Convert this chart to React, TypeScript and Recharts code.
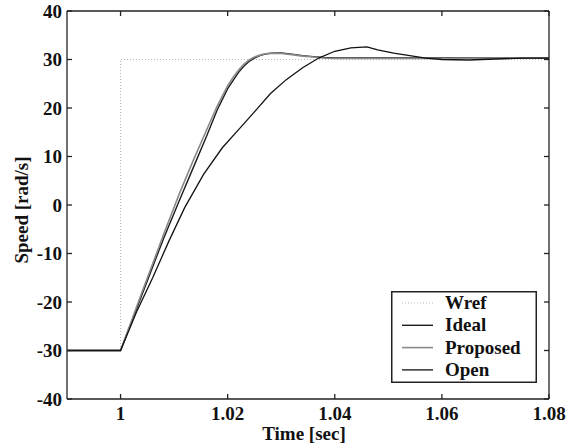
import React from 'react';
import { LineChart, Line, XAxis, YAxis, Legend } from 'recharts';

const FONT = '"Liberation Serif", "Times New Roman", Times, serif';

const xTicks = [1, 1.02, 1.04, 1.06, 1.08];
const yTicks = [-40, -30, -20, -10, 0, 10, 20, 30, 40];

const seriesNames = ['Wref', 'Ideal', 'Proposed', 'Open'];

const wrefT = [0.99, 1.0, 1.0, 1.08];
const wrefV = [-30, -30, 30, 30];

const idealT = [0.99, 1.0, 1.004, 1.008, 1.011, 1.0135, 1.016, 1.018, 1.02, 1.022, 1.023, 1.024, 1.025, 1.026, 1.027, 1.028, 1.03, 1.032, 1.034, 1.036, 1.038, 1.04, 1.05, 1.06, 1.07, 1.08];
const idealV = [-30, -30, -18.5, -7, 1, 7.5, 14, 19.5, 24, 27.3, 28.6, 29.6, 30.3, 30.8, 31.1, 31.3, 31.35, 31.1, 30.8, 30.6, 30.4, 30.3, 30.3, 30.3, 30.3, 30.3];

const proposedT = [0.99, 1.0, 1.004, 1.008, 1.011, 1.0135, 1.016, 1.018, 1.02, 1.021, 1.022, 1.023, 1.024, 1.025, 1.026, 1.027, 1.028, 1.03, 1.032, 1.034, 1.036, 1.038, 1.04, 1.05, 1.06, 1.07, 1.08];
const proposedV = [-30, -30, -18, -6.2, 2.4, 9, 15.3, 20.3, 24.6, 26.3, 27.8, 29.0, 29.9, 30.5, 30.9, 31.2, 31.3, 31.25, 31.0, 30.7, 30.5, 30.3, 30.2, 30.2, 30.2, 30.3, 30.3];

const openT = [0.99, 1.0, 1.003, 1.006, 1.009, 1.012, 1.0155, 1.019, 1.022, 1.025, 1.028, 1.031, 1.034, 1.037, 1.04, 1.043, 1.046, 1.048, 1.051, 1.054, 1.057, 1.06, 1.065, 1.07, 1.075, 1.08];
const openV = [-30, -30, -22, -15, -7.5, -0.5, 6.3, 11.8, 15.5, 19.2, 23.0, 25.9, 28.3, 30.3, 31.7, 32.4, 32.6, 32.0, 31.3, 30.8, 30.3, 30.0, 29.9, 30.1, 30.3, 30.3];

const toData = (t: number[], v: number[]) => t.map((x, i) => ({ t: x, v: v[i] }));

const styles = [
  { color: '#b8b8b8', width: 1.2, dash: '1 2' },
  { color: '#1a1a1a', width: 1.4, dash: undefined },
  { color: '#8a8a8a', width: 1.6, dash: undefined },
  { color: '#111111', width: 1.3, dash: undefined },
];

const seriesData = [
  toData(wrefT, wrefV),
  toData(idealT, idealV),
  toData(proposedT, proposedV),
  toData(openT, openV),
];

const tickStyle = { fontSize: 19, fontWeight: 'bold' as const, fontFamily: FONT, fill: '#111' };

const LegendBox = () => (
  <svg width={146} height={92} style={{ display: 'block' }}>
    <rect x={0.75} y={0.75} width={144.5} height={90.5} fill="#fff" stroke="#222" strokeWidth={1.5} />
    {seriesNames.map((name, i) => {
      const cy = 12 + i * 22.3;
      return (
        <g key={name}>
          <line x1={11} x2={42} y1={cy} y2={cy} stroke={styles[i].color} strokeWidth={styles[i].width} strokeDasharray={styles[i].dash} />
          <text x={54} y={cy + 6} style={{ fontSize: 19, fontWeight: 'bold', fontFamily: FONT, fill: '#111' }}>{name}</text>
        </g>
      );
    })}
  </svg>
);

export default function App() {
  return (
    <div style={{ position: 'absolute', left: 0, top: 0, background: '#fff' }}>
      <LineChart width={577} height={448} margin={{ top: 0, right: 0, bottom: 0, left: 0 }}>
        <XAxis
          xAxisId="bottom"
          dataKey="t"
          type="number"
          domain={[0.99, 1.08]}
          ticks={xTicks}
          allowDataOverflow
          height={49}
          tickSize={-5}
          tickMargin={13}
          stroke="#222"
          strokeWidth={1.3}
          tick={tickStyle}
          tickFormatter={(v: number) => String(v)}
          label={{
            content: () => (
              <text x={304} y={440} textAnchor="middle" style={{ fontSize: 19, fontWeight: 'bold', fontFamily: FONT, fill: '#111' }}>
                Time [sec]
              </text>
            ),
          }}
        />
        <XAxis
          xAxisId="top"
          orientation="top"
          dataKey="t"
          type="number"
          domain={[0.99, 1.08]}
          ticks={xTicks}
          allowDataOverflow
          height={11}
          tickSize={-5}
          stroke="#222"
          strokeWidth={1.3}
          tickFormatter={() => ''}
        />
        <YAxis
          yAxisId="left"
          type="number"
          domain={[-40, 40]}
          ticks={yTicks}
          allowDataOverflow
          width={67}
          tickSize={-5}
          tickMargin={10}
          stroke="#222"
          strokeWidth={1.3}
          tick={tickStyle}
          label={{
            content: () => (
              <text x={28} y={210} textAnchor="middle" transform="rotate(-90 28 210)" style={{ fontSize: 19, fontWeight: 'bold', fontFamily: FONT, fill: '#111' }}>
                Speed [rad/s]
              </text>
            ),
          }}
        />
        <YAxis
          yAxisId="right"
          orientation="right"
          type="number"
          domain={[-40, 40]}
          ticks={yTicks}
          allowDataOverflow
          width={28}
          tickSize={-5}
          stroke="#222"
          strokeWidth={1.3}
          tickFormatter={() => ''}
        />
        {seriesNames.map((name, i) => (
          <Line
            key={name}
            name={name}
            xAxisId="bottom"
            yAxisId="left"
            data={seriesData[i]}
            dataKey="v"
            type="linear"
            stroke={styles[i].color}
            strokeWidth={styles[i].width}
            strokeDasharray={styles[i].dash}
            dot={false}
            activeDot={false}
            isAnimationActive={false}
          />
        ))}
        <Legend
          layout="horizontal"
          verticalAlign="middle"
          align="center"
          wrapperStyle={{ position: 'absolute', left: 391, top: 291, width: 146, height: 92 }}
          content={() => <LegendBox />}
        />
      </LineChart>
    </div>
  );
}
